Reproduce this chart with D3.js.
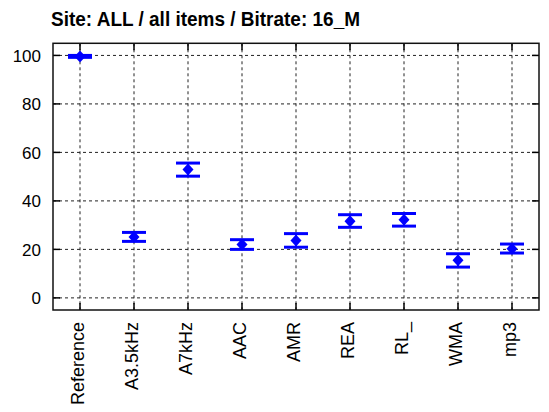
<!DOCTYPE html>
<html><head><meta charset="utf-8">
<script src="https://cdn.jsdelivr.net/npm/d3@7"></script>
<style>body{margin:0;background:#fff}svg{display:block}</style>
</head><body>
<script>
const categories = ["Reference","A3.5kHz","A7kHz","AAC","AMR","REA","RL_","WMA","mp3"];
const means = [99.6, 25.1, 52.9, 22.0, 23.7, 31.6, 32.2, 15.5, 20.3];
const lower = [99.2, 23.3, 50.2, 20.0, 20.9, 29.1, 29.6, 12.7, 18.5];
const upper = [100.0, 27.0, 55.6, 24.0, 26.5, 34.3, 34.8, 18.2, 22.2];
const yTicks = [0, 20, 40, 60, 80, 100];
const title = "Site: ALL / all items / Bitrate: 16_M";

const W = 549, H = 412;
const L = 53, R = 539, T = 43.3, B = 310;
const svg = d3.select("body").append("svg").attr("width", W).attr("height", H);

const x = d3.scalePoint().domain(categories).range([L, R]).padding(0.5);
const y = d3.scaleLinear().domain([-5, 105]).range([B, T]);

// grid
const grid = svg.append("g").attr("stroke", "#222").attr("stroke-width", 1).attr("stroke-dasharray", "3,3");
grid.selectAll("line.h").data(yTicks).join("line").attr("class","h")
  .attr("x1", L).attr("x2", R).attr("y1", d => y(d)).attr("y2", d => y(d));
grid.selectAll("line.v").data(categories).join("line").attr("class","v")
  .attr("x1", d => x(d)).attr("x2", d => x(d)).attr("y1", T).attr("y2", B);

// ticks (inner, both sides)
const tk = svg.append("g").attr("stroke", "#000").attr("stroke-width", 1.5);
const tl = 7;
tk.selectAll("line.yl").data(yTicks).join("line").attr("x1", L).attr("x2", L + tl).attr("y1", d => y(d)).attr("y2", d => y(d));
tk.selectAll("line.yr").data(yTicks).join("line").attr("x1", R - tl).attr("x2", R).attr("y1", d => y(d)).attr("y2", d => y(d));
tk.selectAll("line.xb").data(categories).join("line").attr("x1", d => x(d)).attr("x2", d => x(d)).attr("y1", B).attr("y2", B - tl);
tk.selectAll("line.xt").data(categories).join("line").attr("x1", d => x(d)).attr("x2", d => x(d)).attr("y1", T).attr("y2", T + tl);

// frame
svg.append("rect").attr("x", L).attr("y", T).attr("width", R - L).attr("height", B - T)
  .attr("fill", "none").attr("stroke", "#111").attr("stroke-width", 1.5);

// y labels
svg.append("g").selectAll("text").data(yTicks).join("text")
  .attr("x", 41).attr("y", d => y(d)).attr("dy", "0.36em").attr("text-anchor", "end")
  .attr("font-family", "Liberation Sans, Arial, sans-serif").attr("font-size", 17).attr("fill", "#000")
  .text(d => d);

// x labels
svg.append("g").selectAll("text").data(categories).join("text")
  .attr("transform", d => `translate(${x(d) + 3.5},322) rotate(-90)`)
  .attr("text-anchor", "end")
  .attr("font-family", "Liberation Sans, Arial, sans-serif").attr("font-size", 18).attr("fill", "#000")
  .text(d => d);

// title
svg.append("text").attr("x", 51).attr("y", 26)
  .attr("font-family", "Liberation Sans, Arial, sans-serif").attr("font-weight", "bold").attr("font-size", 21)
  .attr("textLength", 309).attr("lengthAdjust", "spacingAndGlyphs").attr("fill", "#000")
  .text(title);

// error bars
const data = categories.map((c, i) => ({c, m: means[i], lo: lower[i], hi: upper[i]}));
const eb = svg.append("g").attr("stroke", "#0000ff");
const cw = 12;
eb.selectAll("line.v").data(data).join("line").attr("stroke-width", 2)
  .attr("x1", d => x(d.c)).attr("x2", d => x(d.c)).attr("y1", d => y(d.lo)).attr("y2", d => y(d.hi));
eb.selectAll("line.t").data(data).join("line").attr("stroke-width", 3)
  .attr("x1", d => x(d.c) - cw).attr("x2", d => x(d.c) + cw).attr("y1", d => y(d.hi)).attr("y2", d => y(d.hi));
eb.selectAll("line.b").data(data).join("line").attr("stroke-width", 3)
  .attr("x1", d => x(d.c) - cw).attr("x2", d => x(d.c) + cw).attr("y1", d => y(d.lo)).attr("y2", d => y(d.lo));

// diamonds
svg.append("g").selectAll("path").data(data).join("path")
  .attr("d", d => { const cx = x(d.c), cy = y(d.m); return `M${cx},${cy-6}L${cx+5.5},${cy}L${cx},${cy+6}L${cx-5.5},${cy}Z`; })
  .attr("fill", "#0000ff");
</script>
</body></html>
